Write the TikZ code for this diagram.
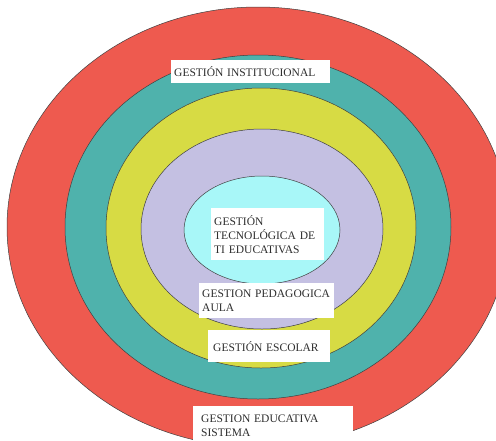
\documentclass[tikz,border=0pt]{standalone}
\usepackage{fontspec}
\setmainfont{Liberation Serif}
\definecolor{ringred}{HTML}{EE5A4F}
\definecolor{ringteal}{HTML}{4FB2AC}
\definecolor{ringyellow}{HTML}{D7DB44}
\definecolor{ringlilac}{HTML}{C4C0E2}
\definecolor{ringcyan}{HTML}{A8F7F8}
\definecolor{labeltext}{HTML}{2E2E2E}
\begin{document}
\begin{tikzpicture}[x=1pt,y=-1pt,
  ring/.style={draw=black!75, line width=0.5pt},
  tag/.style={fill=white, anchor=north west, inner xsep=3pt, inner ysep=0pt,
    align=left, text=labeltext, font=\fontsize{11.5}{14}\selectfont}]
\useasboundingbox (0,0) rectangle (496,440);
% outer ring, cut off by the page edge
\begin{scope}
  \clip (0,0) rectangle (496,440);
  \filldraw[ring, fill=ringred] (258,227) ellipse [x radius=251, y radius=220];
\end{scope}
\filldraw[ring, fill=ringteal]   (258,227) ellipse [x radius=193, y radius=172];
\filldraw[ring, fill=ringyellow] (261,228) ellipse [x radius=155, y radius=140];
\filldraw[ring, fill=ringlilac]  (262,229) ellipse [x radius=121, y radius=100];
\filldraw[ring, fill=ringcyan]   (262,230) ellipse [x radius=78,  y radius=54];
% labels
\node[tag, text width=153pt, minimum height=23pt] (inst) at (171,60)
  {GESTIÓN INSTITUCIONAL};
\node[tag, text width=107pt, minimum height=52pt] (tecno) at (211,208)
  {GESTIÓN\\TECNOLÓGICA DE\\TI EDUCATIVAS};
\node[tag, text width=129pt, minimum height=35pt] (peda) at (199,283)
  {GESTION PEDAGOGICA\\AULA};
\node[tag, text width=112pt, minimum height=32pt, inner xsep=5pt] (esco) at (208,330)
  {\raisebox{-2pt}{GESTIÓN ESCOLAR}};
\node[tag, text width=144pt, minimum height=39pt, inner xsep=8pt] (educ) at (193,406)
  {GESTION EDUCATIVA\\SISTEMA};
\end{tikzpicture}
\end{document}
